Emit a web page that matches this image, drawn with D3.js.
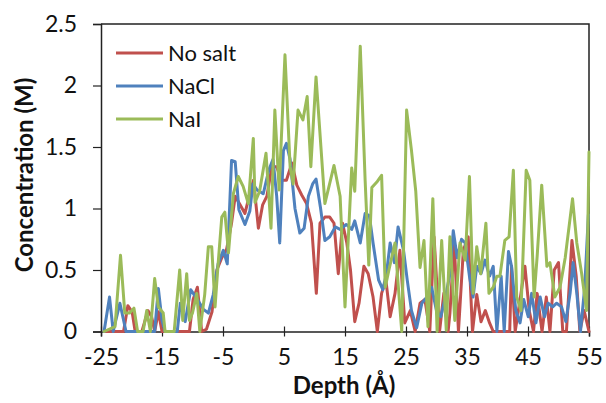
<!DOCTYPE html>
<html>
<head>
<meta charset="utf-8">
<script src="https://cdn.jsdelivr.net/npm/d3@7"></script>
<style>
  html, body { margin: 0; padding: 0; background: #fff; }
  svg { display: block; }
</style>
</head>
<body>
<svg id="chart" width="606" height="403"></svg>
<script>
// Ion concentration profiles along the depth axis
const xTicks = [-25, -15, -5, 5, 15, 25, 35, 45, 55];
const yTicks = [0, 0.5, 1, 1.5, 2, 2.5];
const seriesNames = ["No salt", "NaCl", "NaI"];

const noSaltDepth = [-24.5, -21.3, -20.6, -19.9, -19.4, -18.3, -17.3, -16.7, -16.2, -15.6, -15.0, -10.5, -9.9, -9.2, -8.5, -7.7, -6.8, -6.0, -5.2, -4.4, -3.6, -3.0, -2.2, -1.4, -0.7, 0.0, 0.8, 1.5, 2.2, 3.0, 3.8, 4.6, 5.4, 6.3, 7.1, 7.9, 8.7, 9.5, 10.3, 10.9, 11.7, 12.5, 13.2, 13.9, 14.6, 15.3, 15.9, 16.6, 17.3, 18.1, 18.8, 19.6, 20.3, 21.0, 21.7, 22.4, 23.2, 24.0, 24.8, 25.7, 26.5, 27.3, 28.1, 28.9, 29.6, 30.5, 31.2, 31.9, 32.2, 32.9, 33.6, 34.4, 35.2, 35.9, 36.6, 37.3, 38.0, 38.7, 39.3, 40.1, 41.2, 42.0, 42.3, 42.9, 43.7, 44.5, 45.2, 45.9, 46.5, 47.3, 48.0, 48.6, 49.3, 50.0, 50.7, 51.3, 52.2, 52.9, 53.5, 54.2, 55.0];
const noSaltConc = [0, 0, 0.21, 0.16, 0, 0, 0.17, 0.12, 0, 0.16, 0, 0, 0.26, 0.36, 0, 0.02, 0.16, 0.5, 0.6, 0.67, 0.88, 1.1, 1.03, 0.96, 1.1, 1.23, 0.84, 1.03, 1.1, 1.34, 1.34, 1.23, 1.23, 1.37, 1.19, 1.11, 1.04, 0.88, 0.31, 0.88, 0.93, 0.93, 0.88, 0.47, 0.88, 0.72, 0.5, 0.08, 0.23, 0.53, 0.47, 0.28, 0, 0.31, 0.42, 0.12, 0.31, 0.66, 0.07, 0.17, 0, 0.23, 0.26, 0, 0.77, 0, 0.31, 0, 0.15, 0.72, 0, 0.66, 0.77, 0, 0.3, 0.08, 0.17, 0.07, 0, 0, 0, 0, 0.53, 0, 0.26, 0.53, 0.17, 0, 0.31, 0, 0.28, 0, 0.5, 0.56, 0, 0, 0.74, 0.45, 0, 0.17, 0];

const naclDepth = [-24.5, -23.6, -23.0, -21.9, -20.9, -16.2, -15.6, -15.0, -14.5, -12.5, -12.0, -11.2, -10.3, -9.2, -8.2, -7.4, -6.6, -5.8, -4.95, -4.3, -3.6, -3.0, -2.4, -1.4, -0.6, -0.1, 0.6, 1.6, 2.5, 3.2, 3.8, 4.3, 4.9, 5.4, 6.0, 6.8, 7.6, 8.3, 9.0, 9.7, 10.25, 11.0, 11.7, 12.5, 13.4, 14.2, 15.2, 16.1, 16.6, 17.5, 18.3, 19.0, 19.6, 20.5, 21.2, 21.8, 22.4, 23.1, 23.7, 24.6, 25.2, 25.9, 26.75, 27.6, 28.4, 29.2, 30.0, 30.7, 31.6, 32.2, 32.75, 33.4, 34.1, 34.7, 35.4, 36.0, 36.6, 37.3, 37.95, 38.7, 39.3, 39.9, 40.6, 41.1, 41.8, 42.3, 43.0, 43.7, 44.3, 45.05, 45.6, 46.3, 47.0, 47.7, 48.3, 49.05, 49.7, 50.5, 51.2, 51.9, 52.4, 53.0, 53.6, 54.3, 54.9];
const naclConc = [0, 0.28, 0, 0.23, 0, 0, 0.35, 0.09, 0, 0, 0.23, 0.08, 0.34, 0.26, 0.18, 0.15, 0.3, 0.55, 0.66, 0.55, 1.39, 1.38, 0.99, 0.87, 0.98, 1.2, 1.15, 1.12, 1.31, 1.4, 1.1, 0.72, 1.47, 1.53, 1.4, 1.0, 0.8, 0.84, 1.1, 1.2, 1.24, 1.0, 0.74, 0.77, 0.85, 0.83, 0.87, 0.83, 0.9, 0.72, 0.96, 0.94, 0.72, 0.42, 0.34, 0.47, 0.72, 0.56, 0.85, 0.66, 0.42, 0.17, 0.03, 0.23, 0.28, 0.36, 0.17, 0.12, 0.31, 0.47, 0.82, 0.6, 0.75, 0.72, 0.45, 0.28, 0.53, 0.47, 0.58, 0.45, 0.53, 0, 0.45, 0, 0.65, 0.53, 0.17, 0.07, 0.26, 0.12, 0.31, 0.07, 0.28, 0.12, 0.23, 0.2, 0.23, 0.2, 0.08, 0.31, 0.56, 0.31, 0, 0.36, 0.95];

const naiDepth = [-24.5, -22.7, -21.8, -21.1, -20.3, -19.6, -19.0, -18.1, -17.5, -16.9, -16.2, -15.6, -14.8, -14.5, -13.0, -12.1, -11.6, -10.95, -10.5, -10.0, -9.3, -8.8, -8.0, -7.4, -6.85, -6.3, -5.8, -5.2, -4.7, -4.1, -3.3, -2.5, -1.7, -0.85, -0.03, 0.25, 1.0, 2.05, 2.87, 3.5, 4.2, 5.16, 6.0, 6.5, 7.3, 8.1, 8.8, 9.4, 10.25, 11.7, 13.2, 14.2, 15.0, 16.1, 16.6, 17.5, 18.3, 18.9, 19.4, 20.3, 21.0, 21.6, 22.2, 23.2, 24.3, 25.1, 25.9, 26.6, 27.3, 27.95, 28.6, 29.4, 30.1, 30.85, 31.6, 32.2, 33.0, 33.85, 34.7, 35.4, 36.0, 36.6, 37.25, 38.1, 38.6, 39.3, 39.9, 40.4, 41.2, 41.9, 42.6, 43.15, 43.85, 44.7, 45.3, 46.0, 46.5, 47.25, 48.1, 48.6, 49.4, 50.25, 51.1, 52.3, 53.0, 53.8, 54.6, 55.0];
const naiConc = [0, 0.04, 0.62, 0.15, 0.15, 0.19, 0, 0, 0.17, 0, 0.43, 0.2, 0.15, 0, 0, 0.5, 0.09, 0.47, 0.09, 0.15, 0.31, 0, 0.3, 0.69, 0.69, 0.2, 0.55, 0.93, 0.97, 0.64, 1.12, 1.26, 1.18, 1.04, 1.57, 1.05, 1.14, 1.45, 0.84, 1.8, 1.15, 2.25, 1.34, 1.2, 1.8, 1.72, 1.91, 1.34, 2.07, 1.04, 1.35, 1.1, 0.2, 1.33, 1.14, 2.32, 1.23, 0.54, 1.17, 1.22, 1.27, 0.36, 0.5, 0.72, 0, 1.8, 1.47, 1.14, 0.52, 0.74, 0.04, 1.08, 0, 0.74, 0.01, 0.77, 0.09, 0.72, 0.58, 1.26, 0.31, 0.69, 0.47, 0.88, 0.31, 0.36, 0.45, 0.45, 0.74, 0.77, 1.31, 0.28, 0.17, 1.31, 1.23, 0.28, 0.61, 1.19, 0.53, 0.56, 0.28, 0.36, 0.6, 1.08, 0.72, 0.47, 0.17, 1.46];

const colors = ["#C0504D", "#4F81BD", "#9BBB59"];
const series = [
  { name: seriesNames[0], depth: noSaltDepth, conc: noSaltConc, color: colors[0] },
  { name: seriesNames[1], depth: naclDepth, conc: naclConc, color: colors[1] },
  { name: seriesNames[2], depth: naiDepth, conc: naiConc, color: colors[2] }
];

const svg = d3.select("#chart");
const font = "Lato, 'Open Sans', sans-serif";
const plotL = 101, plotR = 589, plotT = 24, plotB = 331.5;

const x = d3.scaleLinear().domain([-25, 55]).range([plotL, plotR]);
const y = d3.scaleLinear().domain([0, 2.5]).range([plotB, plotT]);

// plot frame (top and right edges)
svg.append("path")
  .attr("d", `M${plotL},${plotT}H${plotR}V${plotB}`)
  .attr("fill", "none")
  .attr("stroke", "#222")
  .attr("stroke-width", 1.5);

// y axis
const yAxis = svg.append("g")
  .attr("transform", `translate(${plotL},0)`)
  .call(d3.axisLeft(y).tickValues(yTicks).tickSize(8).tickPadding(16)
    .tickFormat(d => String(d)));
yAxis.select(".domain").attr("stroke", "#222").attr("stroke-width", 1.5);
yAxis.selectAll(".tick line").attr("stroke", "#222").attr("stroke-width", 1.2);
yAxis.selectAll(".tick text")
  .attr("font-family", font).attr("font-size", 23).attr("fill", "#111");

// x axis with ticks crossing the baseline
const xAxis = svg.append("g")
  .attr("transform", `translate(0,${plotB})`)
  .call(d3.axisBottom(x).tickValues(xTicks).tickSize(5)
    .tickFormat(d => String(d)));
xAxis.select(".domain").attr("stroke", "#222").attr("stroke-width", 1.5);
xAxis.selectAll(".tick line").attr("y1", -5).attr("y2", 5)
  .attr("stroke", "#222").attr("stroke-width", 1.2);
xAxis.selectAll(".tick text")
  .attr("y", 25).attr("dy", "0.35em")
  .attr("font-family", font).attr("font-size", 23).attr("fill", "#111");

// axis titles
svg.append("text")
  .attr("x", 344).attr("y", 386).attr("dy", "0.35em")
  .attr("text-anchor", "middle")
  .attr("font-family", font).attr("font-size", 24).attr("font-weight", "bold")
  .attr("fill", "#111")
  .text("Depth (Å)");

svg.append("text")
  .attr("transform", `translate(25,175) rotate(-90)`)
  .attr("text-anchor", "middle").attr("dy", "0.35em")
  .attr("font-family", font).attr("font-size", 24).attr("font-weight", "bold")
  .attr("fill", "#111")
  .text("Concentration (M)");

// concentration lines
const line = d3.line()
  .x(d => x(d[0]))
  .y(d => y(d[1]));

series.forEach(s => {
  const pts = s.depth.map((d, i) => [d, s.conc[i]]);
  svg.append("path")
    .datum(pts)
    .attr("d", line)
    .attr("fill", "none")
    .attr("stroke", s.color)
    .attr("stroke-width", 3)
    .attr("stroke-linejoin", "round")
    .attr("stroke-linecap", "round");
});

// legend
const legend = svg.append("g").attr("transform", "translate(116,53)");
series.forEach((s, i) => {
  const g = legend.append("g").attr("transform", `translate(0,${i * 33})`);
  g.append("line")
    .attr("x1", 0).attr("x2", 47).attr("y1", 0).attr("y2", 0)
    .attr("stroke", s.color).attr("stroke-width", 3);
  g.append("text")
    .attr("x", 52).attr("y", 0).attr("dy", "0.35em")
    .attr("font-family", font).attr("font-size", 22).attr("fill", "#111")
    .text(s.name);
});
</script>
</body>
</html>
